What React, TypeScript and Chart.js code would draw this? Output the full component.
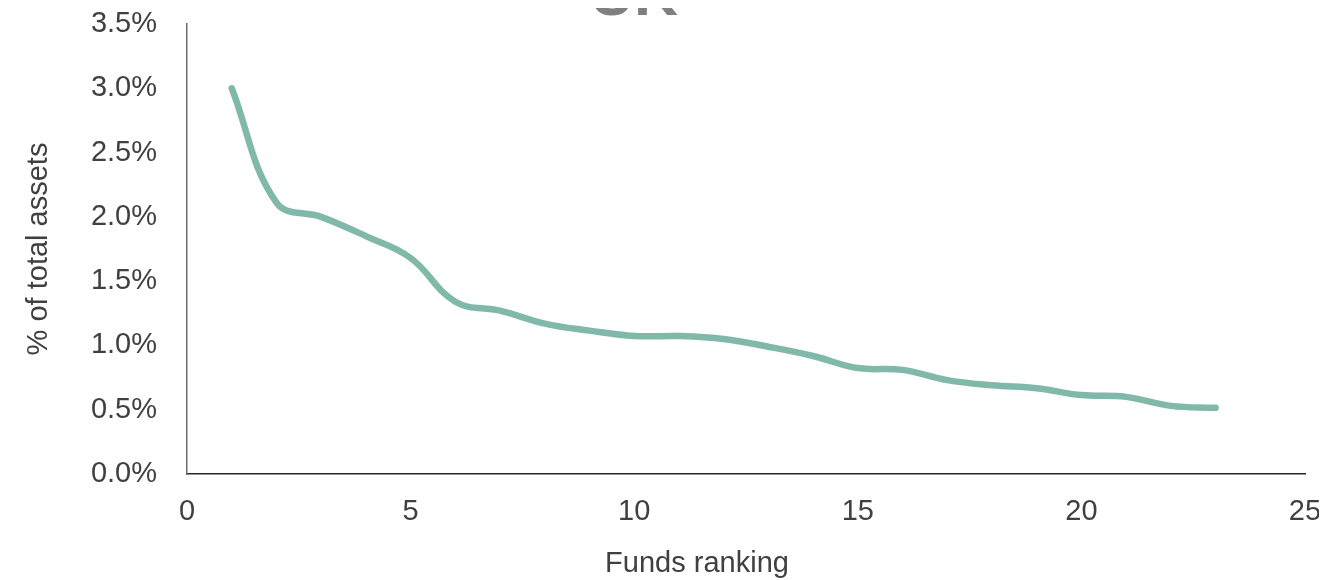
import React, { useEffect, useRef } from "react";
import { Chart, registerables } from "chart.js";

Chart.register(...registerables);

const ranks = [1, 2, 3, 4, 5, 6, 7, 8, 9, 10, 11, 12, 13, 14, 15, 16, 17, 18, 19, 20, 21, 22, 23];
const shares = [3.0, 2.11, 2.0, 1.85, 1.68, 1.34, 1.27, 1.17, 1.115, 1.073, 1.073, 1.05, 0.99, 0.918, 0.824, 0.81, 0.73, 0.69, 0.667, 0.614, 0.6, 0.53, 0.515];
const titleText = "UK";
const yTitle = "% of total assets";
const xTitle = "Funds ranking";

export default function App() {
  const ref = useRef<HTMLCanvasElement | null>(null);
  useEffect(() => {
    if (!ref.current) return;
    const font = "'Liberation Sans', Arial, sans-serif";
    const textPlugin = {
      id: "extraText",
      afterDraw(chart: any) {
        const ctx = chart.ctx;
        ctx.save();
        ctx.font = `bold 61px ${font}`;
        ctx.fillStyle = "#808080";
        ctx.textAlign = "center";
        ctx.textBaseline = "alphabetic";
        ctx.fillText(titleText, 626, 7);
        ctx.font = `29px ${font}`;
        ctx.fillStyle = "#404040";
        ctx.fillText(xTitle, 689, 564);
        ctx.restore();
      },
    };
    const chart = new Chart(ref.current, {
      type: "line",
      data: {
        datasets: [
          {
            data: ranks.map((r, i) => ({ x: r, y: shares[i] })),
            borderColor: "#80b8aa",
            borderWidth: 6.5,
            borderCapStyle: "round",
            borderJoinStyle: "round",
            pointRadius: 0,
            tension: 0.4,
            fill: false,
          },
        ],
      },
      options: {
        animation: false,
        responsive: true,
        maintainAspectRatio: false,
        layout: { padding: { top: 16, right: 14, left: 0, bottom: 0 } },
        plugins: { legend: { display: false }, tooltip: { enabled: false }, title: { display: false } },
        scales: {
          x: {
            type: "linear",
            min: 0,
            max: 25,
            grid: { display: false, drawTicks: false },
            border: { display: true, color: "#262626", width: 1.5 },
            ticks: { stepSize: 5, padding: 21, color: "#404040", font: { family: font, size: 29 } },
            title: { display: false, text: xTitle },
            afterFit: (s: any) => { s.height = 106; s.paddingLeft = 0; s.paddingRight = 0; },
          },
          y: {
            min: 0,
            max: 3.5,
            grid: { display: false, drawTicks: false },
            border: { display: true, color: "#6b6b6b", width: 1.5 },
            ticks: {
              stepSize: 0.5,
              padding: 30,
              color: "#404040",
              font: { family: font, size: 29 },
              callback: (v: any) => Number(v).toFixed(1) + "%",
            },
            title: { display: true, text: yTitle, color: "#404040", font: { family: font, size: 29 }, padding: { top: 14, bottom: 0 } },
            afterFit: (s: any) => { s.width = 179; s.paddingTop = 0; s.paddingBottom = 0; },
          },
        },
      },
      plugins: [textPlugin],
    } as any);
    return () => chart.destroy();
  }, []);
  return (
    <div style={{ width: 1311, height: 572, position: "relative" }}>
      <canvas ref={ref} />
    </div>
  );
}
